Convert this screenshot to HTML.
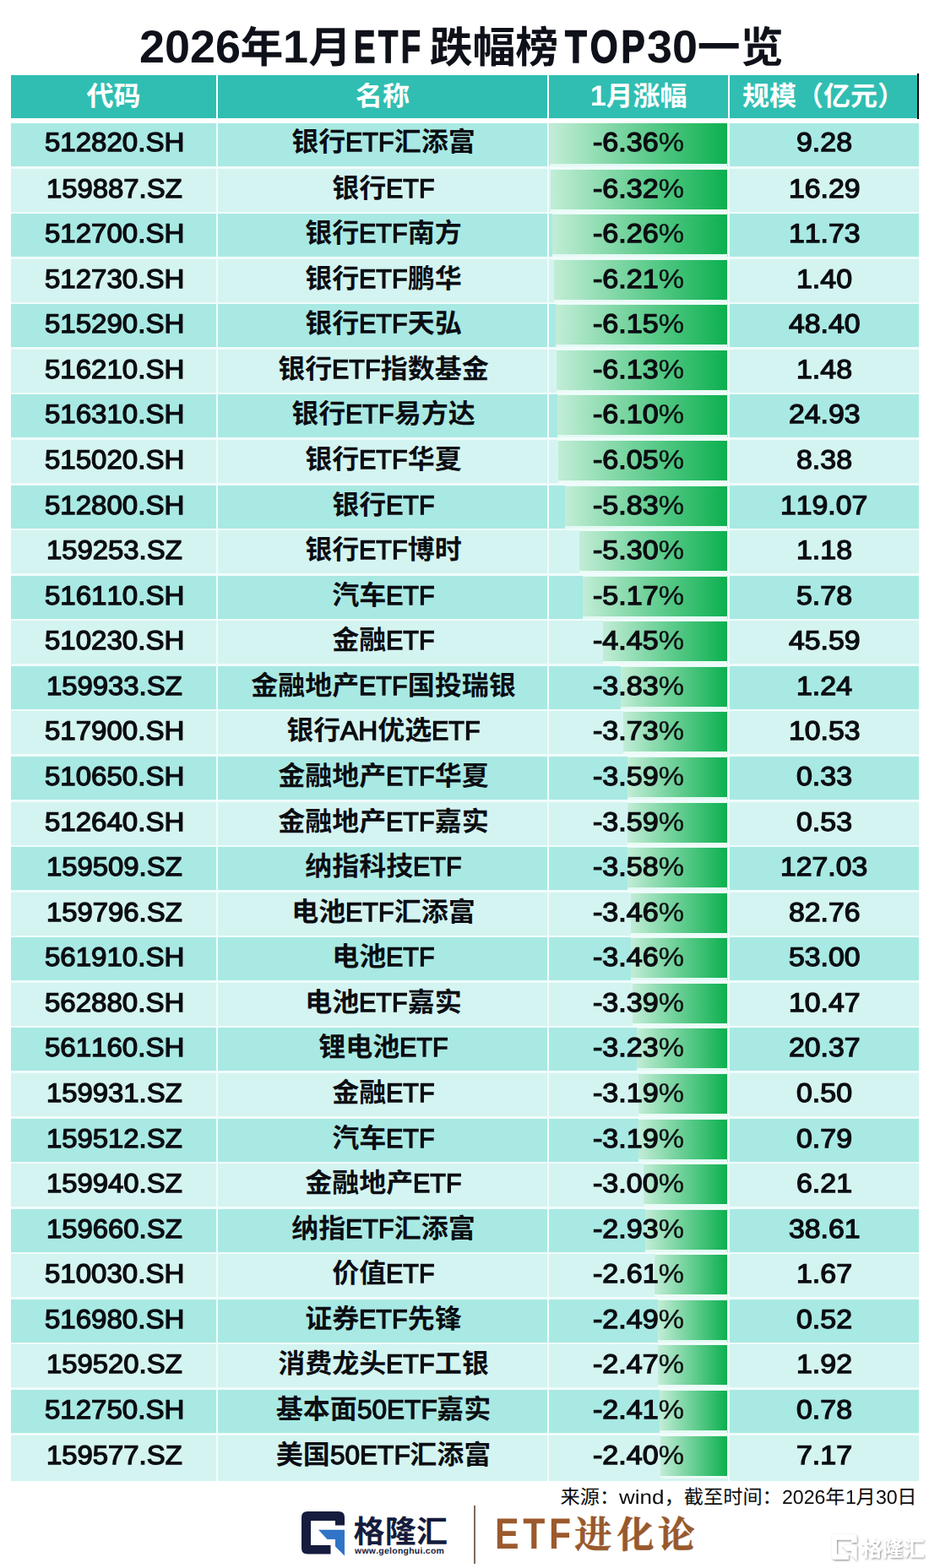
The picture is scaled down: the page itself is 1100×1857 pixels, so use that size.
<!DOCTYPE html>
<html lang="zh-CN">
<head>
<meta charset="utf-8">
<title>2026年1月ETF跌幅榜TOP30一览</title>
<style>
html,body{margin:0;padding:0;background:#fff}
body{font-family:"Liberation Sans","Noto Sans CJK SC",sans-serif;color:#0b0d12;text-rendering:geometricPrecision;font-kerning:none}
#page{position:relative;width:1100px;height:1857px;background:#fff;overflow:hidden}
.k{font-weight:bold;-webkit-text-stroke:0;font-family:"Liberation Sans","Noto Sans CJK SC",sans-serif}
.l{display:inline-block;white-space:nowrap;text-align:left}
.l i{display:inline-block;font-style:normal;transform-origin:0 50%;font-size:1.0712em}
.title{position:absolute;left:-4px;top:21px;width:1100px;margin:0;text-align:center;font-weight:bold;font-size:50.8px;line-height:70px;color:#0e1119;white-space:nowrap;letter-spacing:0px}
.thead{position:absolute;left:13px;top:89px;width:1075px;height:52px;font-size:32px;font-weight:bold;color:#fff}
.thead .c{position:absolute;top:0;height:51.3px;line-height:51px;background:#30beb2;text-align:center;white-space:nowrap}
.thead .c4{width:222px}
.thead .edge{position:absolute;left:1073px;top:-2px;width:2px;height:54px;background:#0a0a0a}
.tbody{position:absolute;left:13px;top:146px;width:1075px;height:1607px;background:#f0fcfb;font-size:32px}
.r{position:absolute;left:0;width:1075px}
.r .c{position:absolute;top:0;height:100%;line-height:47px;text-align:center;white-space:nowrap;-webkit-text-stroke:1.3px currentColor}
.r .c .k{-webkit-text-stroke:0}
.c1{left:0;width:243px}
.c2{left:245px;width:390px}
.c3{left:637px;width:212px}
.c4{left:851px;width:224px}
.a .c{background:#a9e9e3}
.b .c{background:#d4f4f1}
.bar{position:absolute;right:1px;top:1px;height:47.4px;box-shadow:0 -1px 0 0 rgba(238,252,247,.85),0 3px 0 0 rgba(238,252,247,.85),1px 0 0 0 rgba(238,252,247,.85);background:linear-gradient(90deg,#c2edd7 0%,#0cb04f 100%);text-decoration:none}
.v{position:relative}
.src{position:absolute;right:14.5px;top:1757.5px;font-size:23.2px;line-height:30px;white-space:nowrap;color:#0b0b0b}
.src .k{font-weight:normal}
.src .l i{font-size:1em}
.tbody .l i{font-size:0.9844em}
.url{position:absolute;left:420px;top:1832px;font-size:10.4px;line-height:12px;font-weight:bold;letter-spacing:.3px;color:#151c3d;white-space:nowrap}
.vline{position:absolute;left:561px;top:1783px;width:1.6px;height:68.5px;background:#7d6d60}
.etf{position:absolute;left:586.3px;top:1785.7px;font-size:51.5px;line-height:60px;font-weight:bold;color:#9b5a2d;white-space:nowrap}
.etf i{display:inline-block;font-style:normal;transform:scaleX(.83);transform-origin:0 50%;letter-spacing:5.6px}
.title .as{-webkit-text-stroke:1.5px currentColor}
.pc{-webkit-text-stroke:.35px currentColor}
.r.first .c{line-height:45px}
.r .c1,.r .c2{box-sizing:border-box;padding-left:2px}
.r.first .bar{top:0;height:48.2px}

</style>
</head>
<body>
<svg width="0" height="0" style="position:absolute" aria-hidden="true"><defs>
<filter id="wsh" x="-10%" y="-20%" width="125%" height="150%"><feDropShadow dx="1" dy="1.2" stdDeviation="0.9" flood-color="#000" flood-opacity="0.45"/></filter>

</defs></svg>
<div id="page">
<h1 class="title"><span class="l" style="width:119.89px"><i style="transform:scaleX(0.9903)">2026</i></span><span class="k">年</span><span class="l" style="width:29.97px"><i style="transform:scaleX(0.9903)">1</i></span><span class="k">月</span><span class="l" style="width:92.71px"><i class="as" style="transform:scaleX(0.7006);letter-spacing:5px;margin-left:2.75px">ETF</i></span><span class="k">跌幅榜</span><span class="l" style="width:104.75px"><i class="as" style="transform:scaleX(0.7761);letter-spacing:5px;margin-left:7.44px">TOP</i></span><span class="l" style="width:59.94px"><i style="transform:scaleX(0.9903)">30</i></span><span class="k">一览</span></h1>
<div class="thead"><div class="c c1"><span class="k">代码</span></div><div class="c c2"><span class="k">名称</span></div><div class="c c3"><span class="l" style="width:18.88px"><i style="transform:scaleX(0.9903)">1</i></span><span class="k">月涨幅</span></div><div class="c c4"><span class="k">规模（亿元）</span></div><b class="edge"></b></div>
<div class="tbody">
<div class="r a first" style="top:0px;height:51.4px"><div class="c c1"><span class="l" style="width:165.25px"><i style="transform:scaleX(1.0484)">512820.SH</i></span></div><div class="c c2"><span class="k">银行</span><span class="l" style="width:57.49px"><i style="transform:scaleX(0.9663)">ETF</i></span><span class="k">汇添富</span></div><div class="c c3"><u class="bar" style="width:210.0px"></u><span class="v"><span class="l" style="width:107.98px"><i style="transform:scaleX(1.0819)">-6.36<span class="pc">%</span></i></span></span></div><div class="c c4"><span class="l" style="width:65.99px"><i style="transform:scaleX(1.0764)">9.28</i></span></div></div>
<div class="r b" style="top:54px;height:51.4px"><div class="c c1"><span class="l" style="width:160.71px"><i style="transform:scaleX(1.0428)">159887.SZ</i></span></div><div class="c c2"><span class="k">银行</span><span class="l" style="width:57.49px"><i style="transform:scaleX(0.9663)">ETF</i></span></div><div class="c c3"><u class="bar" style="width:208.7px"></u><span class="v"><span class="l" style="width:107.98px"><i style="transform:scaleX(1.0819)">-6.32<span class="pc">%</span></i></span></span></div><div class="c c4"><span class="l" style="width:84.58px"><i style="transform:scaleX(1.0730)">16.29</i></span></div></div>
<div class="r a" style="top:107px;height:51.4px"><div class="c c1"><span class="l" style="width:165.25px"><i style="transform:scaleX(1.0484)">512700.SH</i></span></div><div class="c c2"><span class="k">银行</span><span class="l" style="width:57.49px"><i style="transform:scaleX(0.9663)">ETF</i></span><span class="k">南方</span></div><div class="c c3"><u class="bar" style="width:206.7px"></u><span class="v"><span class="l" style="width:107.98px"><i style="transform:scaleX(1.0819)">-6.26<span class="pc">%</span></i></span></span></div><div class="c c4"><span class="l" style="width:84.58px"><i style="transform:scaleX(1.0730)">11.73</i></span></div></div>
<div class="r b" style="top:161px;height:51.4px"><div class="c c1"><span class="l" style="width:165.25px"><i style="transform:scaleX(1.0484)">512730.SH</i></span></div><div class="c c2"><span class="k">银行</span><span class="l" style="width:57.49px"><i style="transform:scaleX(0.9663)">ETF</i></span><span class="k">鹏华</span></div><div class="c c3"><u class="bar" style="width:205.0px"></u><span class="v"><span class="l" style="width:107.98px"><i style="transform:scaleX(1.0819)">-6.21<span class="pc">%</span></i></span></span></div><div class="c c4"><span class="l" style="width:65.99px"><i style="transform:scaleX(1.0764)">1.40</i></span></div></div>
<div class="r a" style="top:214px;height:51.4px"><div class="c c1"><span class="l" style="width:165.25px"><i style="transform:scaleX(1.0484)">515290.SH</i></span></div><div class="c c2"><span class="k">银行</span><span class="l" style="width:57.49px"><i style="transform:scaleX(0.9663)">ETF</i></span><span class="k">天弘</span></div><div class="c c3"><u class="bar" style="width:203.1px"></u><span class="v"><span class="l" style="width:107.98px"><i style="transform:scaleX(1.0819)">-6.15<span class="pc">%</span></i></span></span></div><div class="c c4"><span class="l" style="width:84.58px"><i style="transform:scaleX(1.0730)">48.40</i></span></div></div>
<div class="r b" style="top:268px;height:51.4px"><div class="c c1"><span class="l" style="width:165.25px"><i style="transform:scaleX(1.0484)">516210.SH</i></span></div><div class="c c2"><span class="k">银行</span><span class="l" style="width:57.49px"><i style="transform:scaleX(0.9663)">ETF</i></span><span class="k">指数基金</span></div><div class="c c3"><u class="bar" style="width:202.4px"></u><span class="v"><span class="l" style="width:107.98px"><i style="transform:scaleX(1.0819)">-6.13<span class="pc">%</span></i></span></span></div><div class="c c4"><span class="l" style="width:65.99px"><i style="transform:scaleX(1.0764)">1.48</i></span></div></div>
<div class="r a" style="top:321px;height:51.4px"><div class="c c1"><span class="l" style="width:165.25px"><i style="transform:scaleX(1.0484)">516310.SH</i></span></div><div class="c c2"><span class="k">银行</span><span class="l" style="width:57.49px"><i style="transform:scaleX(0.9663)">ETF</i></span><span class="k">易方达</span></div><div class="c c3"><u class="bar" style="width:201.4px"></u><span class="v"><span class="l" style="width:107.98px"><i style="transform:scaleX(1.0819)">-6.10<span class="pc">%</span></i></span></span></div><div class="c c4"><span class="l" style="width:84.58px"><i style="transform:scaleX(1.0730)">24.93</i></span></div></div>
<div class="r b" style="top:375px;height:51.4px"><div class="c c1"><span class="l" style="width:165.25px"><i style="transform:scaleX(1.0484)">515020.SH</i></span></div><div class="c c2"><span class="k">银行</span><span class="l" style="width:57.49px"><i style="transform:scaleX(0.9663)">ETF</i></span><span class="k">华夏</span></div><div class="c c3"><u class="bar" style="width:199.8px"></u><span class="v"><span class="l" style="width:107.98px"><i style="transform:scaleX(1.0819)">-6.05<span class="pc">%</span></i></span></span></div><div class="c c4"><span class="l" style="width:65.99px"><i style="transform:scaleX(1.0764)">8.38</i></span></div></div>
<div class="r a" style="top:429px;height:51.4px"><div class="c c1"><span class="l" style="width:165.25px"><i style="transform:scaleX(1.0484)">512800.SH</i></span></div><div class="c c2"><span class="k">银行</span><span class="l" style="width:57.49px"><i style="transform:scaleX(0.9663)">ETF</i></span></div><div class="c c3"><u class="bar" style="width:192.5px"></u><span class="v"><span class="l" style="width:107.98px"><i style="transform:scaleX(1.0819)">-5.83<span class="pc">%</span></i></span></span></div><div class="c c4"><span class="l" style="width:103.16px"><i style="transform:scaleX(1.0708)">119.07</i></span></div></div>
<div class="r b" style="top:482px;height:51.4px"><div class="c c1"><span class="l" style="width:160.71px"><i style="transform:scaleX(1.0428)">159253.SZ</i></span></div><div class="c c2"><span class="k">银行</span><span class="l" style="width:57.49px"><i style="transform:scaleX(0.9663)">ETF</i></span><span class="k">博时</span></div><div class="c c3"><u class="bar" style="width:175.0px"></u><span class="v"><span class="l" style="width:107.98px"><i style="transform:scaleX(1.0819)">-5.30<span class="pc">%</span></i></span></span></div><div class="c c4"><span class="l" style="width:65.99px"><i style="transform:scaleX(1.0764)">1.18</i></span></div></div>
<div class="r a" style="top:536px;height:51.4px"><div class="c c1"><span class="l" style="width:165.25px"><i style="transform:scaleX(1.0484)">516110.SH</i></span></div><div class="c c2"><span class="k">汽车</span><span class="l" style="width:57.49px"><i style="transform:scaleX(0.9663)">ETF</i></span></div><div class="c c3"><u class="bar" style="width:170.7px"></u><span class="v"><span class="l" style="width:107.98px"><i style="transform:scaleX(1.0819)">-5.17<span class="pc">%</span></i></span></span></div><div class="c c4"><span class="l" style="width:65.99px"><i style="transform:scaleX(1.0764)">5.78</i></span></div></div>
<div class="r b" style="top:589px;height:51.4px"><div class="c c1"><span class="l" style="width:165.25px"><i style="transform:scaleX(1.0484)">510230.SH</i></span></div><div class="c c2"><span class="k">金融</span><span class="l" style="width:57.49px"><i style="transform:scaleX(0.9663)">ETF</i></span></div><div class="c c3"><u class="bar" style="width:146.9px"></u><span class="v"><span class="l" style="width:107.98px"><i style="transform:scaleX(1.0819)">-4.45<span class="pc">%</span></i></span></span></div><div class="c c4"><span class="l" style="width:84.58px"><i style="transform:scaleX(1.0730)">45.59</i></span></div></div>
<div class="r a" style="top:643px;height:51.4px"><div class="c c1"><span class="l" style="width:160.71px"><i style="transform:scaleX(1.0428)">159933.SZ</i></span></div><div class="c c2"><span class="k">金融地产</span><span class="l" style="width:57.49px"><i style="transform:scaleX(0.9663)">ETF</i></span><span class="k">国投瑞银</span></div><div class="c c3"><u class="bar" style="width:126.5px"></u><span class="v"><span class="l" style="width:107.98px"><i style="transform:scaleX(1.0819)">-3.83<span class="pc">%</span></i></span></span></div><div class="c c4"><span class="l" style="width:65.99px"><i style="transform:scaleX(1.0764)">1.24</i></span></div></div>
<div class="r b" style="top:696px;height:51.4px"><div class="c c1"><span class="l" style="width:165.25px"><i style="transform:scaleX(1.0484)">517900.SH</i></span></div><div class="c c2"><span class="k">银行</span><span class="l" style="width:44.04px"><i style="transform:scaleX(1.0064)">AH</i></span><span class="k">优选</span><span class="l" style="width:57.49px"><i style="transform:scaleX(0.9663)">ETF</i></span></div><div class="c c3"><u class="bar" style="width:123.2px"></u><span class="v"><span class="l" style="width:107.98px"><i style="transform:scaleX(1.0819)">-3.73<span class="pc">%</span></i></span></span></div><div class="c c4"><span class="l" style="width:84.58px"><i style="transform:scaleX(1.0730)">10.53</i></span></div></div>
<div class="r a" style="top:750px;height:51.4px"><div class="c c1"><span class="l" style="width:165.25px"><i style="transform:scaleX(1.0484)">510650.SH</i></span></div><div class="c c2"><span class="k">金融地产</span><span class="l" style="width:57.49px"><i style="transform:scaleX(0.9663)">ETF</i></span><span class="k">华夏</span></div><div class="c c3"><u class="bar" style="width:118.5px"></u><span class="v"><span class="l" style="width:107.98px"><i style="transform:scaleX(1.0819)">-3.59<span class="pc">%</span></i></span></span></div><div class="c c4"><span class="l" style="width:65.99px"><i style="transform:scaleX(1.0764)">0.33</i></span></div></div>
<div class="r b" style="top:804px;height:51.4px"><div class="c c1"><span class="l" style="width:165.25px"><i style="transform:scaleX(1.0484)">512640.SH</i></span></div><div class="c c2"><span class="k">金融地产</span><span class="l" style="width:57.49px"><i style="transform:scaleX(0.9663)">ETF</i></span><span class="k">嘉实</span></div><div class="c c3"><u class="bar" style="width:118.5px"></u><span class="v"><span class="l" style="width:107.98px"><i style="transform:scaleX(1.0819)">-3.59<span class="pc">%</span></i></span></span></div><div class="c c4"><span class="l" style="width:65.99px"><i style="transform:scaleX(1.0764)">0.53</i></span></div></div>
<div class="r a" style="top:857px;height:51.4px"><div class="c c1"><span class="l" style="width:160.71px"><i style="transform:scaleX(1.0428)">159509.SZ</i></span></div><div class="c c2"><span class="k">纳指科技</span><span class="l" style="width:57.49px"><i style="transform:scaleX(0.9663)">ETF</i></span></div><div class="c c3"><u class="bar" style="width:118.2px"></u><span class="v"><span class="l" style="width:107.98px"><i style="transform:scaleX(1.0819)">-3.58<span class="pc">%</span></i></span></span></div><div class="c c4"><span class="l" style="width:103.16px"><i style="transform:scaleX(1.0708)">127.03</i></span></div></div>
<div class="r b" style="top:911px;height:51.4px"><div class="c c1"><span class="l" style="width:160.71px"><i style="transform:scaleX(1.0428)">159796.SZ</i></span></div><div class="c c2"><span class="k">电池</span><span class="l" style="width:57.49px"><i style="transform:scaleX(0.9663)">ETF</i></span><span class="k">汇添富</span></div><div class="c c3"><u class="bar" style="width:114.2px"></u><span class="v"><span class="l" style="width:107.98px"><i style="transform:scaleX(1.0819)">-3.46<span class="pc">%</span></i></span></span></div><div class="c c4"><span class="l" style="width:84.58px"><i style="transform:scaleX(1.0730)">82.76</i></span></div></div>
<div class="r a" style="top:964px;height:51.4px"><div class="c c1"><span class="l" style="width:165.25px"><i style="transform:scaleX(1.0484)">561910.SH</i></span></div><div class="c c2"><span class="k">电池</span><span class="l" style="width:57.49px"><i style="transform:scaleX(0.9663)">ETF</i></span></div><div class="c c3"><u class="bar" style="width:114.2px"></u><span class="v"><span class="l" style="width:107.98px"><i style="transform:scaleX(1.0819)">-3.46<span class="pc">%</span></i></span></span></div><div class="c c4"><span class="l" style="width:84.58px"><i style="transform:scaleX(1.0730)">53.00</i></span></div></div>
<div class="r b" style="top:1018px;height:51.4px"><div class="c c1"><span class="l" style="width:165.25px"><i style="transform:scaleX(1.0484)">562880.SH</i></span></div><div class="c c2"><span class="k">电池</span><span class="l" style="width:57.49px"><i style="transform:scaleX(0.9663)">ETF</i></span><span class="k">嘉实</span></div><div class="c c3"><u class="bar" style="width:111.9px"></u><span class="v"><span class="l" style="width:107.98px"><i style="transform:scaleX(1.0819)">-3.39<span class="pc">%</span></i></span></span></div><div class="c c4"><span class="l" style="width:84.58px"><i style="transform:scaleX(1.0730)">10.47</i></span></div></div>
<div class="r a" style="top:1071px;height:51.4px"><div class="c c1"><span class="l" style="width:165.25px"><i style="transform:scaleX(1.0484)">561160.SH</i></span></div><div class="c c2"><span class="k">锂电池</span><span class="l" style="width:57.49px"><i style="transform:scaleX(0.9663)">ETF</i></span></div><div class="c c3"><u class="bar" style="width:106.7px"></u><span class="v"><span class="l" style="width:107.98px"><i style="transform:scaleX(1.0819)">-3.23<span class="pc">%</span></i></span></span></div><div class="c c4"><span class="l" style="width:84.58px"><i style="transform:scaleX(1.0730)">20.37</i></span></div></div>
<div class="r b" style="top:1125px;height:51.4px"><div class="c c1"><span class="l" style="width:160.71px"><i style="transform:scaleX(1.0428)">159931.SZ</i></span></div><div class="c c2"><span class="k">金融</span><span class="l" style="width:57.49px"><i style="transform:scaleX(0.9663)">ETF</i></span></div><div class="c c3"><u class="bar" style="width:105.3px"></u><span class="v"><span class="l" style="width:107.98px"><i style="transform:scaleX(1.0819)">-3.19<span class="pc">%</span></i></span></span></div><div class="c c4"><span class="l" style="width:65.99px"><i style="transform:scaleX(1.0764)">0.50</i></span></div></div>
<div class="r a" style="top:1179px;height:51.4px"><div class="c c1"><span class="l" style="width:160.71px"><i style="transform:scaleX(1.0428)">159512.SZ</i></span></div><div class="c c2"><span class="k">汽车</span><span class="l" style="width:57.49px"><i style="transform:scaleX(0.9663)">ETF</i></span></div><div class="c c3"><u class="bar" style="width:105.3px"></u><span class="v"><span class="l" style="width:107.98px"><i style="transform:scaleX(1.0819)">-3.19<span class="pc">%</span></i></span></span></div><div class="c c4"><span class="l" style="width:65.99px"><i style="transform:scaleX(1.0764)">0.79</i></span></div></div>
<div class="r b" style="top:1232px;height:51.4px"><div class="c c1"><span class="l" style="width:160.71px"><i style="transform:scaleX(1.0428)">159940.SZ</i></span></div><div class="c c2"><span class="k">金融地产</span><span class="l" style="width:57.49px"><i style="transform:scaleX(0.9663)">ETF</i></span></div><div class="c c3"><u class="bar" style="width:99.1px"></u><span class="v"><span class="l" style="width:107.98px"><i style="transform:scaleX(1.0819)">-3.00<span class="pc">%</span></i></span></span></div><div class="c c4"><span class="l" style="width:65.99px"><i style="transform:scaleX(1.0764)">6.21</i></span></div></div>
<div class="r a" style="top:1286px;height:51.4px"><div class="c c1"><span class="l" style="width:160.71px"><i style="transform:scaleX(1.0428)">159660.SZ</i></span></div><div class="c c2"><span class="k">纳指</span><span class="l" style="width:57.49px"><i style="transform:scaleX(0.9663)">ETF</i></span><span class="k">汇添富</span></div><div class="c c3"><u class="bar" style="width:96.7px"></u><span class="v"><span class="l" style="width:107.98px"><i style="transform:scaleX(1.0819)">-2.93<span class="pc">%</span></i></span></span></div><div class="c c4"><span class="l" style="width:84.58px"><i style="transform:scaleX(1.0730)">38.61</i></span></div></div>
<div class="r b" style="top:1339px;height:51.4px"><div class="c c1"><span class="l" style="width:165.25px"><i style="transform:scaleX(1.0484)">510030.SH</i></span></div><div class="c c2"><span class="k">价值</span><span class="l" style="width:57.49px"><i style="transform:scaleX(0.9663)">ETF</i></span></div><div class="c c3"><u class="bar" style="width:86.2px"></u><span class="v"><span class="l" style="width:107.98px"><i style="transform:scaleX(1.0819)">-2.61<span class="pc">%</span></i></span></span></div><div class="c c4"><span class="l" style="width:65.99px"><i style="transform:scaleX(1.0764)">1.67</i></span></div></div>
<div class="r a" style="top:1393px;height:51.4px"><div class="c c1"><span class="l" style="width:165.25px"><i style="transform:scaleX(1.0484)">516980.SH</i></span></div><div class="c c2"><span class="k">证券</span><span class="l" style="width:57.49px"><i style="transform:scaleX(0.9663)">ETF</i></span><span class="k">先锋</span></div><div class="c c3"><u class="bar" style="width:82.2px"></u><span class="v"><span class="l" style="width:107.98px"><i style="transform:scaleX(1.0819)">-2.49<span class="pc">%</span></i></span></span></div><div class="c c4"><span class="l" style="width:65.99px"><i style="transform:scaleX(1.0764)">0.52</i></span></div></div>
<div class="r b" style="top:1446px;height:51.4px"><div class="c c1"><span class="l" style="width:160.71px"><i style="transform:scaleX(1.0428)">159520.SZ</i></span></div><div class="c c2"><span class="k">消费龙头</span><span class="l" style="width:57.49px"><i style="transform:scaleX(0.9663)">ETF</i></span><span class="k">工银</span></div><div class="c c3"><u class="bar" style="width:81.6px"></u><span class="v"><span class="l" style="width:107.98px"><i style="transform:scaleX(1.0819)">-2.47<span class="pc">%</span></i></span></span></div><div class="c c4"><span class="l" style="width:65.99px"><i style="transform:scaleX(1.0764)">1.92</i></span></div></div>
<div class="r a" style="top:1500px;height:51.4px"><div class="c c1"><span class="l" style="width:165.25px"><i style="transform:scaleX(1.0484)">512750.SH</i></span></div><div class="c c2"><span class="k">基本面</span><span class="l" style="width:94.66px"><i style="transform:scaleX(1.0013)">50ETF</i></span><span class="k">嘉实</span></div><div class="c c3"><u class="bar" style="width:79.6px"></u><span class="v"><span class="l" style="width:107.98px"><i style="transform:scaleX(1.0819)">-2.41<span class="pc">%</span></i></span></span></div><div class="c c4"><span class="l" style="width:65.99px"><i style="transform:scaleX(1.0764)">0.78</i></span></div></div>
<div class="r b" style="top:1554px;height:53.5px"><div class="c c1"><span class="l" style="width:160.71px"><i style="transform:scaleX(1.0428)">159577.SZ</i></span></div><div class="c c2"><span class="k">美国</span><span class="l" style="width:94.66px"><i style="transform:scaleX(1.0013)">50ETF</i></span><span class="k">汇添富</span></div><div class="c c3"><u class="bar" style="width:79.2px"></u><span class="v"><span class="l" style="width:107.98px"><i style="transform:scaleX(1.0819)">-2.40<span class="pc">%</span></i></span></span></div><div class="c c4"><span class="l" style="width:65.99px"><i style="transform:scaleX(1.0764)">7.17</i></span></div></div>
</div>
<div class="src"><span class="k">来源：</span><span class="l" style="width:53.52px"><i style="transform:scaleX(1.1217)">wind</i></span><span class="k">，截至时间：</span><span class="l" style="width:51.50px"><i style="transform:scaleX(0.9979)">2026</i></span><span class="k">年</span><span class="l" style="width:12.88px"><i style="transform:scaleX(0.9979)">1</i></span><span class="k">月</span><span class="l" style="width:25.75px"><i style="transform:scaleX(0.9979)">30</i></span><span class="k">日</span></div>
<svg class="foot" style="position:absolute;left:340px;top:1780px" width="760" height="77" viewBox="340 1780 760 77" role="img" aria-label="格隆汇 ETF进化论">
<title>格隆汇 www.gelonghui.com | ETF进化论</title>
<path id="gd" fill="#151c3d" d="M364 1790H401Q408 1790 408 1797V1806.5H397V1801H368V1830H391.5V1840.4H364Q357 1840.4 357 1833.4V1797Q357 1790 364 1790Z"/><path id="gb" fill="#2f74c6" d="M377 1811.8H408V1842.5L397 1831.5V1823H387.5Z"/>
<text x="418.5 455.8 493" y="1826.5" font-size="37" font-weight="bold" fill="#151c3d" font-family="&quot;Liberation Sans&quot;,&quot;Noto Sans CJK SC&quot;,sans-serif">格隆汇</text>
<text x="680.3 730.4 778.7" y="1833" font-size="44" font-weight="bold" fill="#98592c" stroke="#98592c" stroke-width="0.6" stroke-linejoin="round" font-family="&quot;Liberation Serif&quot;,&quot;Noto Serif CJK SC&quot;,serif">进化论</text>
<g filter="url(#wsh)" fill="#fff">
<g transform="translate(984.5 1817.3) scale(0.5882) translate(-357 -1790)"><path d="M364 1790H401Q408 1790 408 1797V1806.5H397V1801H368V1830H391.5V1840.4H364Q357 1840.4 357 1833.4V1797Q357 1790 364 1790Z"/><path d="M377 1811.8H408V1842.5L397 1831.5V1823H387.5Z"/></g>
<text x="1019.5 1044.7 1069.8" y="1842.5" font-size="25" font-weight="bold" fill="#fff" font-family="&quot;Liberation Sans&quot;,&quot;Noto Sans CJK SC&quot;,sans-serif">格隆汇</text>
</g>
</svg>
<div class="url">www.gelonghui.com</div>
<div class="vline"></div>
<div class="etf"><i>ETF</i></div>
</div>
</body>
</html>
